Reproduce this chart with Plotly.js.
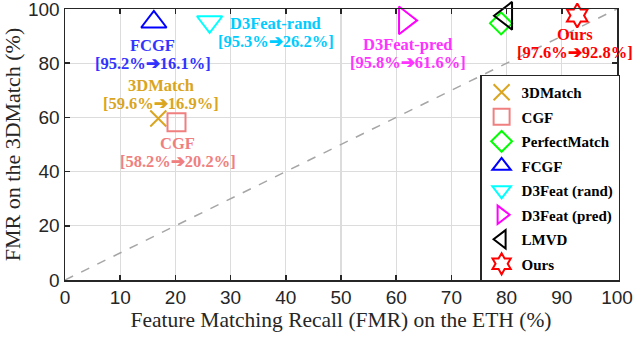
<!DOCTYPE html>
<html>
<head>
<meta charset="utf-8">
<script src="https://cdn.plot.ly/plotly-3.0.1.min.js"></script>
<style>html,body{margin:0;padding:0;background:#fff;}#chart{width:640px;height:338px;}</style>
</head>
<body>
<div id="chart"></div>
<script>
// Data
const methods = ["3DMatch", "CGF", "PerfectMatch", "FCGF", "D3Feat (rand)", "D3Feat (pred)", "LMVD", "Ours"];
const labelNames = ["3DMatch", "CGF", null, "FCGF", "D3Feat-rand", "D3Feat-pred", null, "Ours"];
const fmrETH = [16.9, 20.2, 79.0, 16.1, 26.2, 61.6, 79.9, 92.8];
const fmr3DMatch = [59.6, 58.2, 94.7, 95.2, 95.3, 95.8, 97.5, 97.6];
const diagX = [0, 100];
const diagY = [0, 100];

// Styles
const colors = ["#DAA520", "#F08080", "#00FF00", "#0000FF", "#00FFFF", "#FF00FF", "#000000", "#FF0000"];
const textColors = ["#DAA520", "#F08080", null, "#3333FF", "#00CCFF", "#FF33FF", null, "#FF0000"];
const symbols = ["x-thin-open", "square-open", "diamond-open", "triangle-up-open", "triangle-down-open", "triangle-right-open", "triangle-left-open", "hexagram-open"];
const sizes = [16, 18, 17, 22, 22, 24, 24, 18];
// label offsets in px: [xshift, nameYshift, bracketYshift]
const offsets = [[3, 33, 15], [1, -21, -39], null, [-1, -23, -41], [66, -2, -20], [3, -24, -42], null, [-2, -19, -37]];

const traces = [{
  x: diagX, y: diagY, mode: "lines", showlegend: false, hoverinfo: "skip",
  line: {color: "#a6a6a6", width: 1.5, dash: "dash"}
}];
methods.forEach((m, i) => {
  traces.push({
    x: [fmrETH[i]], y: [fmr3DMatch[i]], mode: "markers", name: "<b>" + m + "</b>",
    legendgroup: "g" + i, cliponaxis: false,
    marker: {symbol: symbols[i], size: sizes[i], color: colors[i], line: {color: colors[i], width: 2}}
  });
});

const annotations = [];
methods.forEach((m, i) => {
  if (!labelNames[i]) return;
  const o = offsets[i];
  const f = {family: "Liberation Serif, Times New Roman, serif", size: 16.5, color: textColors[i]};
  annotations.push({x: fmrETH[i], y: fmr3DMatch[i], xref: "x", yref: "y", showarrow: false,
    text: "<b>" + labelNames[i] + "</b>", xshift: o[0], yshift: o[1], font: f, xanchor: "center", yanchor: "middle", borderpad: 0});
  annotations.push({x: fmrETH[i], y: fmr3DMatch[i], xref: "x", yref: "y", showarrow: false,
    text: "<b>[" + fmr3DMatch[i].toFixed(1) + "%\u2794" + fmrETH[i].toFixed(1) + "%]</b>",
    xshift: o[0], yshift: o[2], font: f, xanchor: "center", yanchor: "middle", borderpad: 0});
});

const axisCommon = {
  range: [0, 100], ticks: "inside", ticklen: 5, tickwidth: 1.5, tickcolor: "#262626",
  mirror: "ticks", showline: true, linecolor: "#262626", linewidth: 1.5,
  showgrid: true, gridcolor: "#dcdcdc", gridwidth: 1.3, zeroline: false, fixedrange: true,
  ticklabeloverflow: "allow",
  tickfont: {family: "Liberation Sans, Arial, sans-serif", size: 19, color: "#262626"}
};

const layout = {
  width: 640, height: 338,
  margin: {l: 65, r: 23, t: 9, b: 58},
  paper_bgcolor: "#fff", plot_bgcolor: "#fff",
  showlegend: true,
  xaxis: Object.assign({}, axisCommon, {dtick: 10,
    title: {text: "Feature Matching Recall (FMR) on the ETH (%)", standoff: 3,
      font: {family: "Liberation Serif, Times New Roman, serif", size: 21.5, color: "#262626"}}}),
  yaxis: Object.assign({}, axisCommon, {dtick: 20,
    title: {text: "FMR on the 3DMatch (%)", standoff: 6,
      font: {family: "Liberation Serif, Times New Roman, serif", size: 22, color: "#262626"}}}),
  legend: {
    x: 0.752, y: 0.758, xanchor: "left", yanchor: "top",
    bgcolor: "#fff", bordercolor: "#262626", borderwidth: 1.5,
    font: {family: "Liberation Serif, Times New Roman, serif", size: 15, color: "#000"},
    itemsizing: "trace", tracegroupgap: 2, itemwidth: 30
  },
  annotations: annotations
};

Plotly.newPlot("chart", traces, layout, {staticPlot: true, displayModeBar: false});
</script>
</body>
</html>
